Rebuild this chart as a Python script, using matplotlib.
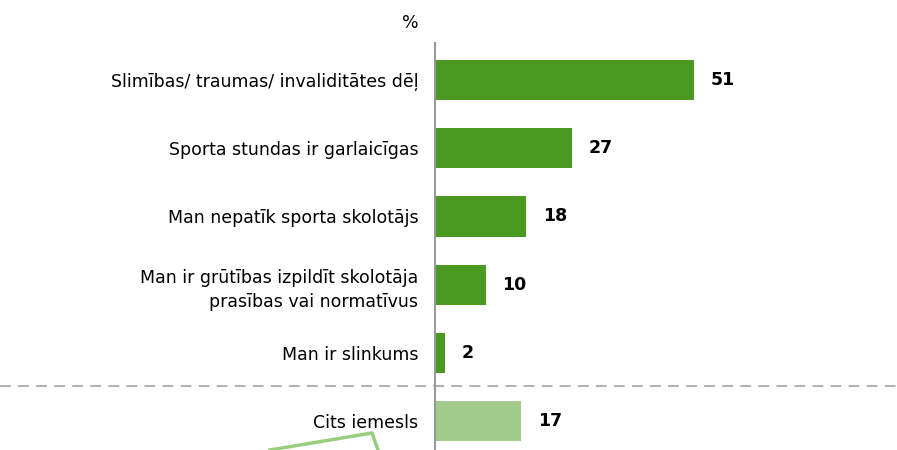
import numpy as np
import matplotlib.pyplot as plt
from matplotlib.transforms import blended_transform_factory
from matplotlib.lines import Line2D

# reasons (Latvian survey), values in %
labels = ['Slimības/ traumas/ invaliditātes dēļ',
          'Sporta stundas ir garlaicīgas',
          'Man nepatīk sporta skolotājs',
          'Man ir grūtības izpildīt skolotāja\nprasības vai normatīvus',
          'Man ir slinkums',
          'Cits iemesls']
values = [51, 27, 18, 10, 2, 17]
colors = ['#4a9a22'] * 5 + ['#a3cc8c']

fig = plt.figure(figsize=(8.97, 4.5), dpi=100)
ax = fig.add_axes([435/897, 0, 1 - 435/897, (450 - 43)/450])

y = np.arange(len(values))
ax.barh(y, values, height=0.59, color=colors, edgecolor='none')
ax.set_xlim(0, 91)
ax.set_ylim(5.42, -0.54)

for yi, v in zip(y, values):
    ax.text(v + 3.3, yi, str(v), va='center', ha='left',
            fontsize=12.5, fontweight='bold', color='black')

ax.set_yticks(y)
ax.set_yticklabels(labels, fontsize=12.5, color='black', linespacing=1.45)
ax.tick_params(axis='y', length=0, pad=12)
ax.set_xticks([])
for s in ['top', 'right', 'bottom']:
    ax.spines[s].set_visible(False)
ax.spines['left'].set_color('#999999')
ax.spines['left'].set_linewidth(1.5)

# dashed separator across the whole figure
tr = blended_transform_factory(fig.transFigure, ax.transData)
ax.plot([0, 1], [4.49, 4.49], transform=tr, color='#aaaaaa',
        linestyle=(0, (6, 4)), linewidth=1.3, clip_on=False)

fig.text(410/897, 1 - 23/450, '%', ha='center', va='center', fontsize=12.5)

# cut-off stroke at the bottom
fig.add_artist(Line2D([270/897, 372/897, 378/897], [0, 17/450, 0],
                      transform=fig.transFigure, color='#98cf7e', linewidth=2.5))

fig.savefig('out.png', dpi=100)
